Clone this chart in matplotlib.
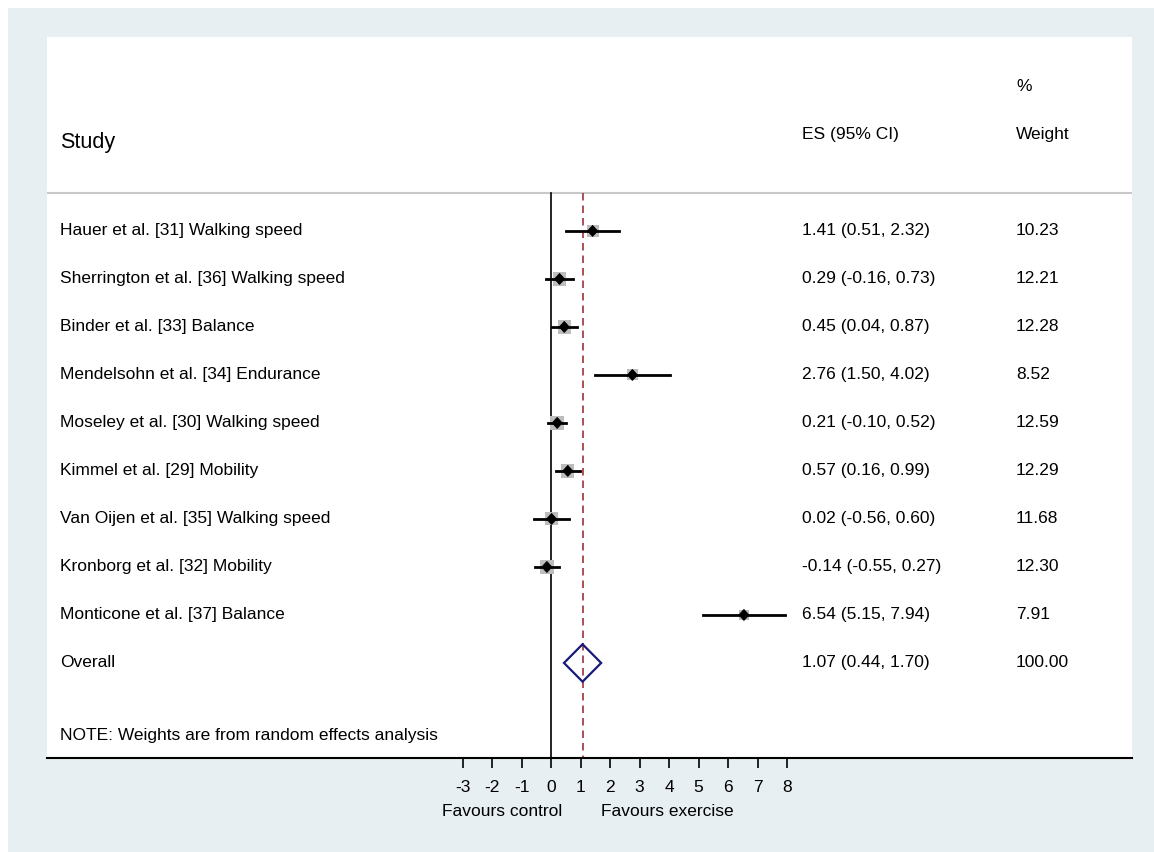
import matplotlib.pyplot as plt
from matplotlib.patches import Rectangle, Polygon
import numpy as np

plt.rcParams['font.family'] = ['Liberation Sans', 'DejaVu Sans']

studies = ["Hauer et al. [31] Walking speed",
           "Sherrington et al. [36] Walking speed",
           "Binder et al. [33] Balance",
           "Mendelsohn et al. [34] Endurance",
           "Moseley et al. [30] Walking speed",
           "Kimmel et al. [29] Mobility",
           "Van Oijen et al. [35] Walking speed",
           "Kronborg et al. [32] Mobility",
           "Monticone et al. [37] Balance"]
es = [1.41, 0.29, 0.45, 2.76, 0.21, 0.57, 0.02, -0.14, 6.54]
lo = [0.51, -0.16, 0.04, 1.50, -0.10, 0.16, -0.56, -0.55, 5.15]
hi = [2.32, 0.73, 0.87, 4.02, 0.52, 0.99, 0.60, 0.27, 7.94]
weights = [10.23, 12.21, 12.28, 8.52, 12.59, 12.29, 11.68, 12.30, 7.91]

overall_es, overall_lo, overall_hi = 1.07, 0.44, 1.70
overall_weight = 100.00

xticks = [-3, -2, -1, 0, 1, 2, 3, 4, 5, 6, 7, 8]

W, H = 1154, 852
fig = plt.figure(figsize=(W / 100, H / 100), dpi=100)
fig.patch.set_facecolor('white')
# light grey-blue backdrop
fig.patches.append(Rectangle((8 / W, 0), 1, 1 - 8 / H, transform=fig.transFigure,
                             facecolor='#e8eff2', edgecolor='none', zorder=-10))

ax = fig.add_axes([47 / W, (H - 758) / H, (1132 - 47) / W, (758 - 37) / H])
ax.set_facecolor('white')

px = 29.5  # pixels per x unit
py = 48.0  # pixels per row
x0 = 551
ax.set_xlim((47 - x0) / px, (1132 - x0) / px)
ax.set_ylim(10.98, -4.04)

fs = 12.5

for s in ['top', 'left', 'right']:
    ax.spines[s].set_visible(False)
ax.spines['bottom'].set_linewidth(1.5)
ax.set_yticks([])
ax.set_xticks(xticks)
ax.set_xticklabels([str(t) for t in xticks], fontsize=fs)
ax.tick_params(axis='x', direction='out', length=7, width=1.2, pad=9)

sep = -0.79
ax.axhline(sep, color='#c8c8c8', lw=1.5)
ax.plot([0, 0], [sep, 10.98], color='black', lw=1.2, zorder=2)
ax.plot([overall_es, overall_es], [sep, 10.98], color='#a0303a', lw=1.2,
        dashes=(4.5, 3), zorder=2)

rows = np.arange(len(studies))
for i in rows:
    side = 3.8 * np.sqrt(weights[i])  # box area ~ weight
    bw, bh = side / px, side / py
    ax.add_patch(Rectangle((es[i] - bw / 2, i - bh / 2), bw, bh,
                           facecolor='#bdbdbd', edgecolor='none', zorder=3))
    ax.plot([lo[i], hi[i]], [i, i], color='black', lw=2.0, zorder=4)
    dx, dy = 5 / px, 5.5 / py
    ax.add_patch(Polygon([[es[i] - dx, i], [es[i], i - dy], [es[i] + dx, i],
                          [es[i], i + dy]], closed=True, facecolor='black',
                         edgecolor='black', lw=0.6, zorder=5))

# overall diamond
k = len(studies)
dh = 0.39
ax.add_patch(Polygon([[overall_lo, k], [overall_es, k - dh], [overall_hi, k],
                      [overall_es, k + dh]], closed=True, fill=False,
                     edgecolor='#1a1a78', lw=1.6, zorder=5))

tr = ax.get_yaxis_transform()
xs, xe, xw = 13 / 1085, (802 - 47) / 1085, (1016 - 47) / 1085

ax.text(xs, -1.85, "Study", transform=tr, fontsize=15.5, va='center')
ax.text(xe, -2.0, "ES (95% CI)", transform=tr, fontsize=fs, va='center')
ax.text(xw, -3.0, "%", transform=tr, fontsize=fs, va='center')
ax.text(xw, -2.0, "Weight", transform=tr, fontsize=fs, va='center')

for i in rows:
    ax.text(xs, i, studies[i], transform=tr, fontsize=fs, va='center')
    ax.text(xe, i, f"{es[i]:.2f} ({lo[i]:.2f}, {hi[i]:.2f})", transform=tr,
            fontsize=fs, va='center')
    ax.text(xw, i, f"{weights[i]:.2f}", transform=tr, fontsize=fs, va='center')

ax.text(xs, k, "Overall", transform=tr, fontsize=fs, va='center')
ax.text(xe, k, f"{overall_es:.2f} ({overall_lo:.2f}, {overall_hi:.2f})",
        transform=tr, fontsize=fs, va='center')
ax.text(xw, k, f"{overall_weight:.2f}", transform=tr, fontsize=fs, va='center')
ax.text(xs, 10.52, "NOTE: Weights are from random effects analysis", transform=tr,
        fontsize=fs, va='center')

ax.text((502 - x0) / px, 12.1, "Favours control", fontsize=fs, ha='center',
        va='center', clip_on=False)
ax.text((667 - x0) / px, 12.1, "Favours exercise", fontsize=fs, ha='center',
        va='center', clip_on=False)

fig.savefig('out.png', dpi=100, facecolor=fig.get_facecolor())
